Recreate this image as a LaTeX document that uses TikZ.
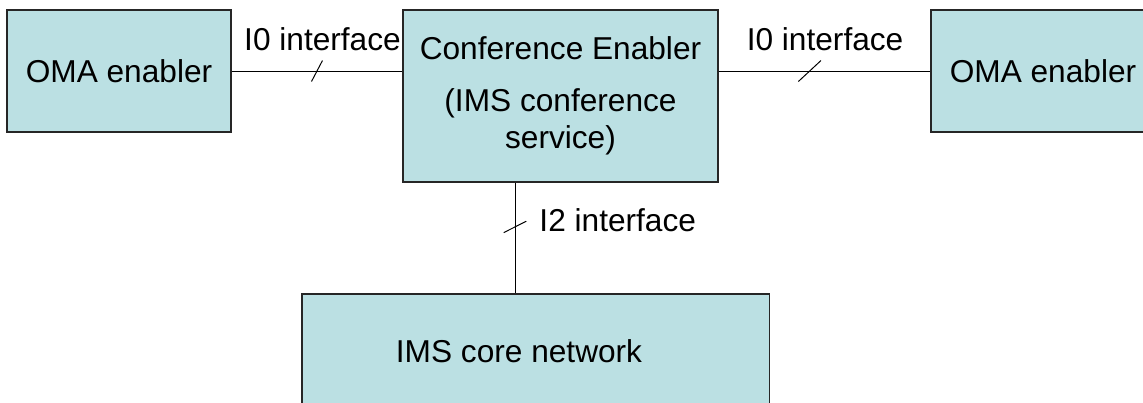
\documentclass[tikz,border=0pt]{standalone}
\usepackage{fontspec}
\setmainfont{Liberation Sans}
\usepackage{tikz}
\usetikzlibrary{calc}
\usepackage{xcolor}
\definecolor{boxfill}{RGB}{187,224,227}
\tikzset{
  block/.style={draw=black!85,line width=0.8pt,fill=boxfill,inner sep=0pt,align=center,font=\fontsize{22.5}{26}\selectfont},
  lbl/.style={inner sep=0pt,anchor=base,font=\fontsize{22.5}{26}\selectfont},
  tick/.style={line width=0.7pt}
}

\begin{document}
\begin{tikzpicture}[x=0.025cm,y=-0.025cm,line width=0.7pt]
      \path[use as bounding box,clip] (0,0) rectangle (1143,402);
      \node[block,minimum width=5.6cm,minimum height=3.05cm] (omaL) at (119,71) {OMA enabler};
      \node[block,minimum width=7.875cm,minimum height=4.3cm] (conf) at (560.5,96) {Conference Enabler\\[11pt](IMS conference\\service)};
      \node[block,minimum width=5.6cm,minimum height=3.05cm] (omaR) at (1043,71) {OMA enabler};
      \node[block,minimum width=11.675cm,minimum height=3cm] (ims) at (535.5,354) {};
      \node[lbl] (imsText) at (519,362) {IMS core network};
      \coordinate (i2top) at ([xshift=-1.1375cm]conf.south);
      \draw (omaL.east) -- coordinate[pos=0.5] (t1) (omaL.east -| conf.west);
      \draw (conf.east |- omaR.west) -- coordinate[pos=0.43] (t2) (omaR.west);
      \draw (i2top) -- coordinate[pos=0.4] (t3) (i2top |- ims.north);
      \draw[tick] ($(t1)+(-5.5,10.5)$) -- ($(t1)+(5.5,-10.5)$);
      \draw[tick] ($(t2)+(-11.3,10.5)$) -- ($(t2)+(11.3,-10.5)$);
      \draw[tick] ($(t3)+(-11.3,5.7)$) -- ($(t3)+(11.3,-5.7)$);
      \node[lbl] (lblL) at ($(t1)+(5.5,-21)$) {I0 interface};
      \node[lbl] (lblR) at ($(t2)+(15.4,-20.5)$) {I0 interface};
      \node[lbl,anchor=base west] (lblB) at ($(t3)+(24,5)$) {I2 interface};
    \end{tikzpicture}
\end{document}
